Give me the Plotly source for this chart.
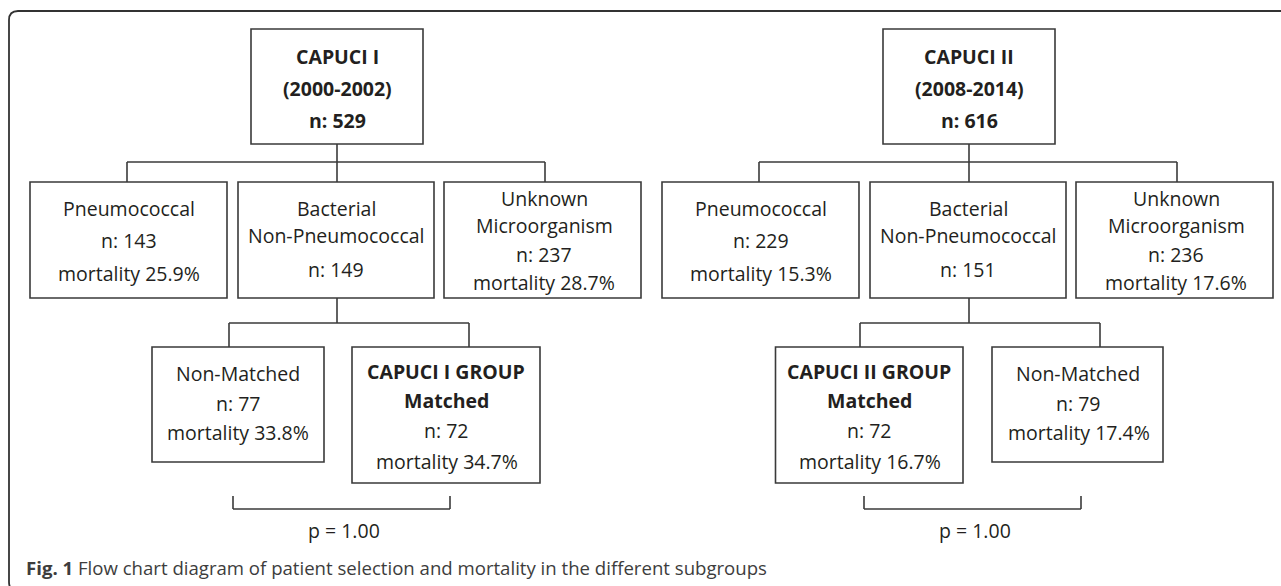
import plotly.graph_objects as go

# ---------------- data ----------------
cohort_names = ["CAPUCI I", "CAPUCI II"]
cohort_periods = ["(2000-2002)", "(2008-2014)"]
cohort_n = [529, 616]
pneumo_n = [143, 229]
pneumo_mortality = [25.9, 15.3]
bacterial_n = [149, 151]
unknown_n = [237, 236]
unknown_mortality = [28.7, 17.6]
matched_n = [72, 72]
matched_mortality = [34.7, 16.7]
nonmatched_n = [77, 79]
nonmatched_mortality = [33.8, 17.4]
p_values = [1.00, 1.00]
caption_label = "Fig. 1"
caption_text = "Flow chart diagram of patient selection and mortality in the different subgroups"

# ---------------- layout constants ----------------
W, H = 1281, 586
LINE = "#3a3a3a"
TXT = "#231f20"
FONT = "Open Sans"
FS = 19.5
PANEL_DX = [0, 632]

fig = go.Figure()
shapes = []
annotations = []


def box(x0, x1, y0, y1):
    shapes.append(dict(type="rect", xref="x", yref="y", x0=x0, x1=x1, y0=y0, y1=y1,
                       line=dict(color=LINE, width=1.6), fillcolor="rgba(0,0,0,0)"))


def seg(x0, y0, x1, y1, width=1.6):
    shapes.append(dict(type="line", xref="x", yref="y", x0=x0, y0=y0, x1=x1, y1=y1,
                       line=dict(color=LINE, width=width)))


def text(x, y, s, bold=False, size=FS, color=TXT, anchor="center"):
    if bold:
        s = "<b>" + s + "</b>"
    annotations.append(dict(x=x, y=y, xref="x", yref="y", text=s, showarrow=False,
                            xanchor=anchor, yanchor="middle",
                            font=dict(family=FONT, size=size, color=color)))


# frame (rounded top-left corner, left side runs off the bottom, open on the right)
shapes.append(dict(type="path", xref="x", yref="y",
                   path="M 1500,11 L 18,11 Q 9,11 9,20 L 9,582 Q 9,591 18,591 L 1500,591",
                   line=dict(color="#333333", width=1.8)))

for i in range(2):
    dx = PANEL_DX[i]
    # top cohort box
    box(251 + dx, 423 + dx, 29, 144)
    cx = 337 + dx
    text(cx, 56, cohort_names[i], bold=True)
    text(cx, 88, cohort_periods[i], bold=True)
    text(cx, 120, f"n: {cohort_n[i]}", bold=True)
    # connectors to second row
    seg(cx, 144, cx, 162)
    seg(127 + dx, 162, 545 + dx, 162)
    for vx in (127 + dx, 337 + dx, 545 + dx):
        seg(vx, 162, vx, 182)
    # second row boxes
    box(30 + dx, 227 + dx, 182, 298)
    box(238 + dx, 434 + dx, 182, 298)
    box(444 + dx, 641 + dx, 182, 298)
    px = 128.5 + dx
    text(px, 208, "Pneumococcal")
    text(px, 240, f"n: {pneumo_n[i]}")
    text(px, 273, f"mortality {pneumo_mortality[i]:.1f}%")
    bx = 336 + dx
    text(bx, 208, "Bacterial")
    text(bx, 235, "Non-Pneumococcal")
    text(bx, 269, f"n: {bacterial_n[i]}")
    ux = 544 + dx
    text(ux, 198, "Unknown")
    text(ux, 225, "Microorganism")
    text(ux, 254, f"n: {unknown_n[i]}")
    text(ux, 282, f"mortality {unknown_mortality[i]:.1f}%")
    # connector to third row
    seg(cx, 298, cx, 323)

# third row, left panel: Non-Matched | Matched
seg(229, 323, 469, 323)
seg(229, 323, 229, 347)
seg(469, 323, 469, 347)
box(152, 324, 347, 462)
text(238, 373, "Non-Matched")
text(238, 403, f"n: {nonmatched_n[0]}")
text(238, 432, f"mortality {nonmatched_mortality[0]:.1f}%")
box(352, 540, 347, 483)
text(446, 371, "CAPUCI I GROUP", bold=True)
text(446, 400, "Matched", bold=True)
text(446, 430, f"n: {matched_n[0]}")
text(447, 461, f"mortality {matched_mortality[0]:.1f}%")
seg(233, 496, 233, 509)
seg(233, 509, 450, 509)
seg(450, 509, 450, 496)
text(344, 530, f"p = {p_values[0]:.2f}")

# third row, right panel: Matched | Non-Matched
seg(860, 323, 1100, 323)
seg(860, 323, 860, 347)
seg(1100, 323, 1100, 347)
box(775.5, 963, 347, 483)
text(869, 371, "CAPUCI II GROUP", bold=True)
text(869, 400, "Matched", bold=True)
text(869, 430, f"n: {matched_n[1]}")
text(870, 461, f"mortality {matched_mortality[1]:.1f}%")
box(992, 1163, 347, 462)
text(1077.5, 373, "Non-Matched")
text(1077.5, 403, f"n: {nonmatched_n[1]}")
text(1079, 432, f"mortality {nonmatched_mortality[1]:.1f}%")
seg(864, 496, 864, 509)
seg(864, 509, 1081, 509)
seg(1081, 509, 1081, 496)
text(975, 530, f"p = {p_values[1]:.2f}")

# caption
annotations.append(dict(x=24, y=567, xref="x", yref="y", showarrow=False,
                        xanchor="left", yanchor="middle",
                        text=f"<b>{caption_label}</b> {caption_text}",
                        font=dict(family=FONT, size=18.6, color="#3d3d3d")))

fig.update_layout(
    width=W, height=H,
    margin=dict(l=0, r=0, t=0, b=0),
    paper_bgcolor="white", plot_bgcolor="white",
    xaxis=dict(range=[0, W], visible=False, fixedrange=True),
    yaxis=dict(range=[H, 0], visible=False, fixedrange=True),
    shapes=shapes, annotations=annotations,
    showlegend=False,
)

fig.write_html("out.html", config={"displayModeBar": False},
               post_script="document.body.style.margin='0';document.body.style.overflow='hidden';")
